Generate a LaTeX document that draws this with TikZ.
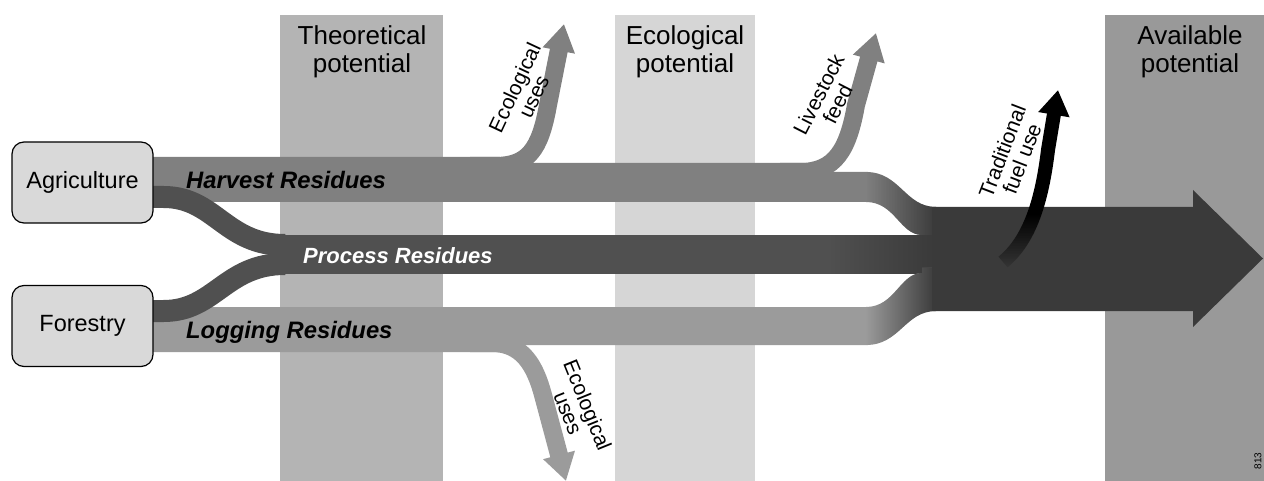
\documentclass[tikz,border=0pt]{standalone}
\usepackage{fontspec}
\setmainfont{Liberation Sans}
\usetikzlibrary{arrows.meta,fadings}
\definecolor{colTheo}{HTML}{B4B4B4}
\definecolor{colEco}{HTML}{D6D6D6}
\definecolor{colAvail}{HTML}{999999}
\definecolor{colHarv}{HTML}{808080}
\definecolor{colProc}{HTML}{505050}
\definecolor{colLog}{HTML}{9B9B9B}
\definecolor{colBig}{HTML}{3A3A3A}
\definecolor{colBox}{HTML}{D9D9D9}
\pgfdeclarelayer{cols}
\pgfdeclarelayer{flows}
\pgfsetlayers{cols,flows,main}
\begin{document}
\begin{tikzpicture}[x=1pt,y=-1pt,
  srcbox/.style={draw=black, line width=1.2pt, fill=colBox, rounded corners=12pt,
    minimum width=141pt, minimum height=81pt, inner sep=0pt,
    font=\fontsize{23.5}{25}\selectfont},
  header/.style={align=center, anchor=north, inner sep=0pt,
    font=\fontsize{26}{28}\selectfont},
  flowlabel/.style={anchor=base west, inner sep=0pt,
    font=\fontsize{23.8}{25}\selectfont\bfseries\itshape},
  sidelabel/.style={align=center, inner sep=0pt,
    font=\fontsize{21}{21}\selectfont},
  branch/.style={line width=18pt, -{Triangle[width=31pt,length=27pt]}},
]
\useasboundingbox (0,0) rectangle (1264,481);

% source boxes
\node[srcbox] (agri) at (82.5,182.5) {Agriculture};
\node[srcbox] (forest) at (82.5,326) {Forestry};

% columns
\begin{pgfonlayer}{cols}
  \fill[colTheo] (280,15) rectangle (443,481);
  \fill[colEco] (615,15) rectangle (755,481);
  \fill[colAvail] (1105,15) rectangle (1264,481);
\end{pgfonlayer}

\node[header] (theo) at (362,25) {Theoretical\\potential};
\node[header] (ecop) at (685,25) {Ecological\\potential};
\node[header] (avail) at (1190,25) {Available\\potential};

\begin{pgfonlayer}{flows}
  % harvest residues
  \fill[colHarv] ([xshift=-5pt]agri.east |- 0,157) -- (500,157) -- (500,163) -- (805,163)
    -- (805,172) -- (868,172) -- (868,202) -- ([xshift=-5pt]agri.east |- 0,202) -- cycle;
  \draw[branch, colHarv] (470,166) -- (495,166) .. controls (528,166) and (540,150) .. (548,105) -- (564,24);
  \draw[branch, colHarv] (780,172) -- (800,172) .. controls (835,172) and (848,150) .. (856,105) -- (876,33);
  \fill[colHarv]
    (866,172) .. controls (900,172) and (905,207) .. (936,207) -- (936,240) -- (922,240)
    -- (922,235) .. controls (900,235) and (895,202) .. (866,202) -- cycle;
  \fill[colBig, path fading=west]
    (866,172) .. controls (900,172) and (905,207) .. (936,207) -- (936,240) -- (922,240)
    -- (922,235) .. controls (900,235) and (895,202) .. (866,202) -- cycle;
  % process residues
  \fill[colProc] (270,235) rectangle (936,274);
  \fill[colBig, path fading=west] (830,235) rectangle (936,274);
  % logging residues
  \fill[colLog] ([xshift=-5pt]forest.east |- 0,307) -- (868,307) -- (868,345) -- (500,345)
    -- (500,352) -- ([xshift=-5pt]forest.east |- 0,352) -- cycle;
  \draw[branch, colLog] (470,343) -- (492,343) .. controls (522,343) and (535,365) .. (543,395) -- (566,481);
  \fill[colLog]
    (866,307) .. controls (895,307) and (900,273) .. (922,273) -- (922,268) -- (936,268)
    -- (936,311) .. controls (905,311) and (900,345) .. (866,345) -- cycle;
  \fill[colBig, path fading=west]
    (866,307) .. controls (895,307) and (900,273) .. (922,273) -- (922,268) -- (936,268)
    -- (936,311) .. controls (905,311) and (900,345) .. (866,345) -- cycle;
  % process branches from the sources
  \draw[colProc, line width=22pt] ([xshift=-5pt,yshift=-14.5pt]agri.east) -- ++(15,0)
    .. controls (215,197) and (225,245) .. (285,245);
  \draw[colProc, line width=22pt] ([xshift=-5pt,yshift=15pt]forest.east) -- ++(15,0)
    .. controls (215,311) and (225,264) .. (285,264);
  % available potential arrow
  \fill[colBig] (932,207) -- (1193,207) -- (1193,190) -- (1263,258.5) -- (1193,327)
    -- (1193,311) -- (932,311) -- cycle;
  % traditional fuel use
  \draw[black, line width=14pt, -{Triangle[width=30pt,length=25pt]}]
    (1003,262) .. controls (1030,240) and (1042,200) .. (1048,150) -- (1058,90);
  \fill[colBig, path fading=north] (980,214) rectangle (1040,272);
\end{pgfonlayer}

\node[flowlabel] (harv) at (186,189) {Harvest Residues};
\node[flowlabel, text=white, font=\fontsize{22}{24}\selectfont\bfseries\itshape] (proc) at (303,263) {Process Residues};
\node[flowlabel] (logg) at (186,338) {Logging Residues};

\node[sidelabel, rotate=65] (ecotop) at (524,92) {Ecological\\uses};
\node[sidelabel, rotate=63] (live) at (828,99) {Livestock\\feed};
\node[sidelabel, rotate=69] (trad) at (1012,155) {Traditional\\fuel use};
\node[sidelabel, rotate=-68] (ecobot) at (578,409) {Ecological\\uses};

\node[rotate=90, inner sep=0pt, font=\fontsize{10}{10}\selectfont] (code) at (1258,461) {813};
\end{tikzpicture}
\end{document}
